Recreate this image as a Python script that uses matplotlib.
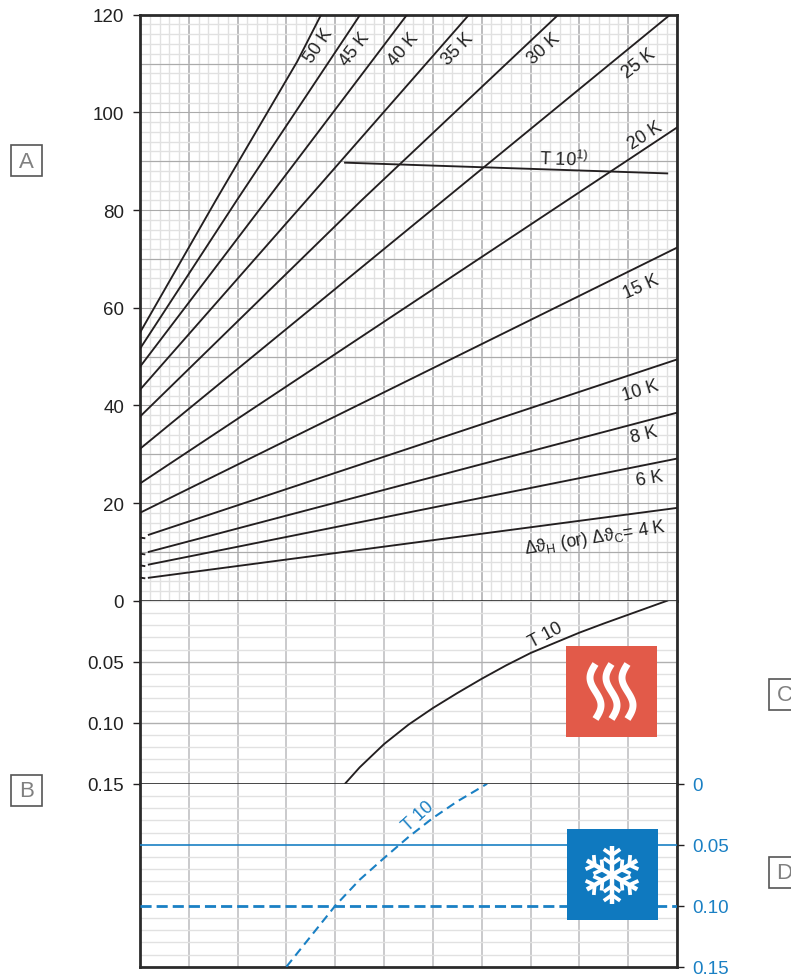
import numpy as np
import matplotlib
matplotlib.use('Agg')
import matplotlib.pyplot as plt
from matplotlib.patches import Rectangle
from matplotlib.ticker import MultipleLocator

plt.rcParams['font.family'] = ['Liberation Sans', 'DejaVu Sans']
plt.rcParams['mathtext.fontset'] = 'custom'
plt.rcParams['mathtext.rm'] = 'Liberation Sans'

# Data: temperature lines
k50_x = [0, 1.56, 3.22, 3.71]
k50_y = [54.9, 82.1, 110.4, 120]
k45_x = [0, 1.99, 4.51]
k45_y = [51.6, 82.1, 120]
k40_x = [0, 2.6, 5.47]
k40_y = [47.9, 82.1, 120]
k35_x = [0, 3.42, 6.74]
k35_y = [43.2, 82.1, 120]
k30_x = [0, 4.55, 8.57]
k30_y = [37.7, 82.1, 120]
k25_x = [0, 10.86]
k25_y = [31.1, 120]
k20_x = [0, 11]
k20_y = [24, 96.9]
k15_x = [0, 11]
k15_y = [18, 72.3]
k10_x = [0.18, 11]
k10_y = [13.5, 49.4]
k8_x = [0.18, 11]
k8_y = [10.0, 38.5]
k6_x = [0.18, 11]
k6_y = [7.4, 29.1]
k4_x = [0.18, 11]
k4_y = [4.7, 19]
stub_x = [0.02, 0.09]
stub_y = [12.9, 9.6, 7.2, 4.7]
t10_top_x = [4.2, 10.8]
t10_top_y = [89.7, 87.5]

t10_heat_x = [4.2, 4.5, 5.0, 5.5, 6.0, 6.5, 7.0, 7.5, 8.0, 8.5, 9.0, 9.5, 10.0, 10.8]
t10_heat_y = [0.15, 0.1366, 0.1175, 0.1016, 0.088, 0.0757, 0.064, 0.053, 0.0429, 0.0345, 0.0262, 0.0187, 0.0115, 0.0]
t10_cool_x = [3.0, 3.5, 4.0, 4.5, 5.0, 5.5, 6.0, 6.5, 7.0, 7.11]
t10_cool_y = [0.15, 0.125, 0.10, 0.0787, 0.0609, 0.0437, 0.0281, 0.0145, 0.0027, 0.0]

left_ticks = [0.05, 0.10, 0.15]
right_ticks = [0, 0.05, 0.10, 0.15]
right_labels = ['0', '0.05', '0.10', '0.15']

W, H = 791, 979
DARK = '#2b2b2b'
LINE = '#231f20'
BLUE = '#1a80c4'
SHIFT = 0.7


def panel(top, bottom):
    ax = fig.add_axes([140 / W, 1 - (bottom + SHIFT) / H, 537 / W, (bottom - top) / H])
    ax.set_xlim(0, 11)
    ax.set_axisbelow(True)
    ax.xaxis.set_major_locator(MultipleLocator(1))
    ax.tick_params(axis='x', which='both', length=0, labelbottom=False)
    ax.tick_params(axis='y', which='minor', length=0)
    ax.tick_params(axis='y', which='major', length=5, width=1, labelsize=13.5, pad=6.5, color=LINE, labelcolor='#222222')
    for s in ax.spines.values():
        s.set_visible(False)
    for s in ['left', 'right']:
        ax.spines[s].set_visible(True)
        ax.spines[s].set_linewidth(2)
        ax.spines[s].set_color(DARK)
    return ax


fig = plt.figure(figsize=(W / 100, H / 100), dpi=100)

# Upper chart
ax1 = panel(15, 601)
ax1.set_ylim(0, 120)
ax1.xaxis.set_minor_locator(MultipleLocator(0.2))
ax1.yaxis.set_major_locator(MultipleLocator(20))
ax1.yaxis.set_minor_locator(MultipleLocator(2))
ax1.grid(which='minor', color='#e1e1e1', lw=1.0)
ax1.grid(which='major', axis='x', color='#a9a9ac', lw=1.1)
for v in range(10, 120, 10):
    ax1.axhline(v, color='#ababab', lw=0.8, zorder=1)
ax1.spines['top'].set_visible(True)
ax1.spines['top'].set_linewidth(2)
ax1.spines['top'].set_color(DARK)

for xs, ys in [(k50_x, k50_y), (k45_x, k45_y), (k40_x, k40_y), (k35_x, k35_y), (k30_x, k30_y),
               (k25_x, k25_y), (k20_x, k20_y), (k15_x, k15_y), (k10_x, k10_y), (k8_x, k8_y),
               (k6_x, k6_y), (k4_x, k4_y), (t10_top_x, t10_top_y)]:
    ax1.plot(xs, ys, color=LINE, lw=1.35, zorder=3)
for y in stub_y:
    ax1.plot(stub_x, [y, y - 0.1], color=LINE, lw=1.35, zorder=3)
ax1.axhline(0, color=DARK, lw=1.2, zorder=3, clip_on=False)

# Heating chart
ax2 = panel(601, 784)
ax2.set_ylim(0.15, 0)
ax2.set_yticks(left_ticks)
ax2.set_yticklabels(['0.05', '0.10', '0.15'])
ax2.yaxis.set_minor_locator(MultipleLocator(0.01))
ax2.grid(which='minor', axis='y', color='#e1e1e1', lw=1.0)
ax2.grid(which='major', axis='y', color='#b0b0b0', lw=1.0)
ax2.grid(which='major', axis='x', color='#bcbcbe', lw=1.1)
ax2.plot(t10_heat_x, t10_heat_y, color=LINE, lw=1.35, zorder=3)
ax2.axhline(0.15, color=DARK, lw=1.2, zorder=3, clip_on=False)

# Cooling chart
ax3 = panel(784, 967)
ax3.set_ylim(0.15, 0)
ax3.yaxis.set_minor_locator(MultipleLocator(0.01))
ax3.set_yticks(right_ticks)
ax3.set_yticklabels(right_labels)
ax3.grid(which='minor', axis='y', color='#e1e1e1', lw=1.0)
ax3.grid(which='major', axis='x', color='#bcbcbe', lw=1.1)
ax3.yaxis.tick_right()
ax3.tick_params(axis='y', which='major', labelcolor=BLUE, labelsize=13.5, pad=6)
ax3.spines['bottom'].set_visible(True)
ax3.spines['bottom'].set_linewidth(2)
ax3.spines['bottom'].set_color(DARK)
ax3.axhline(0.05, color=BLUE, lw=1.2, zorder=3)
ax3.axhline(0.10, color=BLUE, lw=2.0, ls=(0, (4.0, 1.8)), zorder=3)
ax3.plot(t10_cool_x, t10_cool_y, color=BLUE, lw=1.5, ls=(0, (4.2, 2.6)), zorder=3)

# Overlay in pixels for labels and icons
ov = fig.add_axes([0, 0, 1, 1])
ov.set_xlim(0, W)
ov.set_ylim(H, 0)
ov.axis('off')
ov.patch.set_alpha(0)

line_labels = [('50 K', 319, 46, 56), ('45 K', 355, 50, 52), ('40 K', 403, 50, 50), ('35 K', 458, 50, 46),
               ('30 K', 544, 49, 42), ('25 K', 639, 64, 38), ('20 K', 645, 136, 33), ('15 K', 641, 287, 24),
               ('10 K', 640, 391, 17), ('8 K', 644, 435, 14), ('6 K', 650, 479, 10),
               ('T 10', 546, 636, 28)]
for s, x, y, r in line_labels:
    ov.text(x, y, s, rotation=r, rotation_mode='anchor', ha='center', va='center', fontsize=13, color='#222222')
ov.text(595, 538, 'Δϑ$_{\\mathrm{H}}$ (or) Δϑ$_{\\mathrm{C}}$= 4 K', rotation=9, rotation_mode='anchor',
        ha='center', va='center', fontsize=12.8, color='#222222')
ov.text(564, 160, 'T 10$^{1)}$', rotation=-2, rotation_mode='anchor', ha='center', va='center',
        fontsize=13, color='#222222')
ov.text(418, 817, 'T 10', rotation=42, rotation_mode='anchor', ha='center', va='center', fontsize=13, color=BLUE)

# Letter boxes
for s, x0, y0 in [('A', 11, 146), ('B', 11, 776), ('C', 769, 680), ('D', 769, 858)]:
    ov.add_patch(Rectangle((x0, y0), 31, 31, fc='white', ec='#555555', lw=1.2))
    ov.text(x0 + 15.5, y0 + 16, s, ha='center', va='center', fontsize=16, color='#808080')

# Heating icon
ov.add_patch(Rectangle((566, 647), 91, 91, fc='#e25a49', ec='none'))
t = np.linspace(0, 1, 60)
for cx in [595.5, 611.5, 627.5]:
    ov.plot(cx - 5.5 * np.sin(2 * np.pi * t), 665 + 55 * t, color='white', lw=5, solid_capstyle='butt')

# Cooling icon
ov.add_patch(Rectangle((567, 830), 91, 91, fc='#0f79bf', ec='none'))
cx, cy = 612, 876
for a in np.radians(np.arange(30, 360, 60)):
    ov.plot([cx, cx + 29 * np.cos(a)], [cy, cy + 29 * np.sin(a)], color='white', lw=3.2, solid_capstyle='butt')
    for r, b in [(20, 10), (11, 10)]:
        px, py = cx + r * np.cos(a), cy + r * np.sin(a)
        for d in [-55, 55]:
            e = a + np.radians(d)
            ov.plot([px, px + b * np.cos(e)], [py, py + b * np.sin(e)], color='white', lw=2.7, solid_capstyle='butt')

fig.savefig('out.png', dpi=100)
